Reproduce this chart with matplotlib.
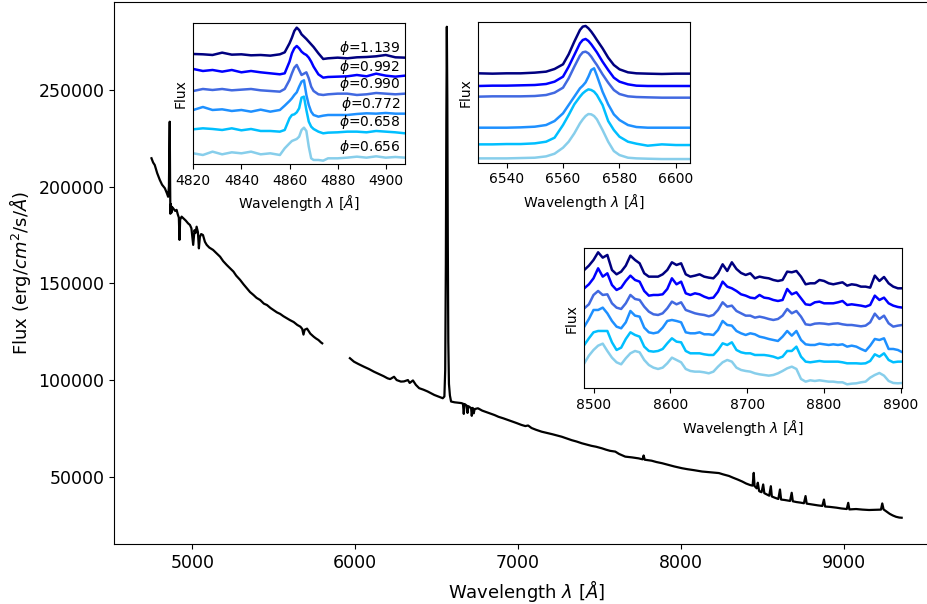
import numpy as np
import matplotlib
matplotlib.use("Agg")
import matplotlib.pyplot as plt

# ---- main spectrum (two pieces, gap between them) ----
wl_blue = [4750, 4760, 4770, 4785, 4801, 4815, 4832, 4845, 4852, 4857, 4860, 4862, 4864, 4866, 4869,
           4872, 4876, 4883, 4895, 4904, 4912, 4918, 4922, 4926, 4935, 4945, 4960, 4975, 4986, 4995,
           5006, 5014, 5020, 5027, 5035, 5041, 5047, 5055, 5066, 5078, 5089, 5105, 5128, 5150, 5171,
           5190, 5212, 5230, 5253, 5270, 5294, 5315, 5335, 5355, 5376, 5395, 5417, 5440, 5459, 5480,
           5499, 5520, 5540, 5560, 5582, 5600, 5623, 5645, 5664, 5675, 5683, 5690, 5705, 5725, 5746,
           5760, 5775, 5790, 5798]
flux_blue = [214700, 212500, 211200, 207000, 203500, 201000, 199200, 196500, 194800, 200000, 222000,
             233600, 205000, 186000, 191000, 186500, 189500, 188800, 187500, 188000, 185500, 184000,
             172500, 183000, 184500, 183700, 182500, 181000, 180200, 178500, 169900, 177500, 176000,
             179300, 176500, 168100, 174000, 175500, 175000, 171500, 169900, 168500, 167300, 165500,
             163800, 161500, 159500, 158000, 156100, 154000, 151800, 149500, 147500, 145500, 144000,
             142500, 141400, 139500, 138800, 137300, 136200, 135000, 134200, 133000, 131900, 131000,
             130000, 128500, 127600, 126500, 123500, 126000, 126600, 124000, 122400, 121500, 120700,
             119500, 119000]

wl_red = [5968, 5993, 6020, 6054, 6085, 6116, 6150, 6175, 6199, 6215, 6239, 6255, 6281, 6300, 6324,
          6335, 6355, 6373, 6393, 6420, 6445, 6465, 6486, 6510, 6538, 6548, 6553, 6557, 6560, 6563,
          6566, 6569, 6572, 6576, 6582, 6589, 6610, 6630, 6651, 6662, 6667, 6672, 6685, 6690, 6695,
          6712, 6716, 6722, 6728, 6734, 6754, 6780, 6810, 6830, 6856, 6880, 6910, 6939, 6960, 6990,
          7021, 7045, 7062, 7083, 7110, 7145, 7180, 7210, 7240, 7268, 7300, 7330, 7360, 7392, 7420,
          7450, 7480, 7515, 7540, 7565, 7597, 7620, 7658, 7700, 7740, 7765, 7771, 7778, 7820, 7850,
          7884, 7920, 7960, 8007, 8040, 8080, 8130, 8180, 8233, 8260, 8295, 8320, 8350, 8377, 8400,
          8425, 8440, 8447, 8452, 8465, 8472, 8480, 8486, 8495, 8505, 8512, 8528, 8542, 8552, 8558,
          8575, 8598, 8608, 8615, 8635, 8655, 8670, 8680, 8687, 8710, 8735, 8755, 8765, 8772, 8810,
          8840, 8868, 8878, 8885, 8915, 8955, 8985, 9018, 9027, 9034, 9075, 9115, 9155, 9195, 9228,
          9236, 9244, 9262, 9282, 9300, 9320, 9340, 9355]
flux_red = [111300, 109500, 108300, 106900, 105700, 104300, 103000, 102000, 100900, 100500, 101700,
            100000, 99200, 99300, 100000, 98500, 99800, 97500, 95800, 95000, 94100, 93200, 92300,
            91500, 90600, 91500, 105000, 160000, 235000, 282700, 245000, 170000, 120000, 98000, 92000,
            88900, 88500, 88300, 88100, 87800, 82500, 87600, 86800, 83000, 86500, 85500, 81500, 85600,
            82800, 85000, 85400, 84200, 83300, 82700, 81900, 81000, 80200, 79300, 78700, 77800, 76800,
            76200, 76500, 75200, 74300, 73300, 72600, 72000, 71300, 70700, 69800, 68900, 68200, 67300,
            66700, 66000, 65500, 64700, 64000, 63400, 63000, 61800, 60400, 60000, 59500, 59000, 61000,
            58800, 58300, 57600, 57000, 56200, 55300, 54400, 53900, 53400, 52700, 52300, 51900, 51200,
            50400, 49500, 48500, 47500, 46500, 45700, 45400, 52000, 45200, 44000, 46900, 42600, 42300,
            42000, 46000, 41500, 40800, 40200, 45100, 39800, 39200, 38500, 43400, 38200, 38000, 37700,
            37500, 41700, 37300, 36900, 36600, 36300, 40000, 36100, 35600, 35200, 34900, 38200, 34600,
            34400, 34000, 33600, 33300, 36500, 33100, 33300, 33000, 32800, 32900, 33000, 36200, 33100,
            32000, 30800, 30000, 29300, 28900, 28800]

# ---- inset spectra, phases top to bottom ----
phases = ['1.139', '0.992', '0.990', '0.772', '0.658', '0.656']
colors = ['navy', 'blue', 'royalblue', 'dodgerblue', 'deepskyblue', 'skyblue']

# H-beta
wl_hb = [4820, 4824, 4828, 4832, 4836, 4840, 4844, 4848, 4852, 4856, 4858, 4860, 4861, 4862, 4863,
         4864, 4865, 4866, 4867, 4868, 4869, 4870, 4872, 4874, 4876, 4880, 4884, 4888, 4892, 4896,
         4900, 4904, 4908, 4910]
hb_1139 = [3.43, 3.42, 3.40, 3.47, 3.41, 3.42, 3.39, 3.40, 3.38, 3.42, 3.48, 3.75, 3.92, 4.12, 4.22,
           4.15, 4.02, 3.95, 3.88, 3.80, 3.72, 3.64, 3.45, 3.28, 3.30, 3.32, 3.30, 3.33, 3.34, 3.36,
           3.40, 3.33, 3.32, 3.30]
hb_0992 = [2.98, 2.92, 2.95, 2.90, 2.95, 2.88, 2.92, 2.88, 2.85, 2.82, 2.85, 3.20, 3.45, 3.60, 3.67,
           3.60, 3.50, 3.44, 3.40, 3.32, 3.20, 3.05, 2.82, 2.72, 2.74, 2.75, 2.76, 2.80, 2.76, 2.84,
           2.78, 2.75, 2.78, 2.75]
hb_0990 = [2.32, 2.38, 2.35, 2.38, 2.34, 2.36, 2.38, 2.34, 2.32, 2.30, 2.38, 2.65, 2.85, 3.02, 3.10,
           2.95, 2.80, 2.84, 2.88, 2.70, 2.45, 2.32, 2.22, 2.20, 2.22, 2.24, 2.24, 2.20, 2.22, 2.26,
           2.24, 2.22, 2.24, 2.23]
hb_0772 = [1.75, 1.84, 1.75, 1.77, 1.72, 1.75, 1.70, 1.76, 1.70, 1.75, 1.88, 2.02, 2.10, 2.20, 2.28,
           2.45, 2.60, 2.64, 2.20, 1.90, 1.70, 1.60, 1.55, 1.58, 1.60, 1.60, 1.60, 1.63, 1.65, 1.64,
           1.66, 1.64, 1.64, 1.63]
hb_0658 = [1.17, 1.20, 1.18, 1.15, 1.20, 1.14, 1.18, 1.12, 1.12, 1.10, 1.15, 1.50, 1.60, 1.62, 1.68,
           1.80, 2.12, 2.15, 1.75, 1.40, 1.25, 1.18, 1.10, 1.05, 1.07, 1.08, 1.10, 1.10, 1.08, 1.12,
           1.10, 1.08, 1.05, 1.08]
hb_0656 = [0.45, 0.40, 0.50, 0.42, 0.48, 0.45, 0.50, 0.42, 0.45, 0.40, 0.60, 0.75, 0.82, 0.85, 0.88,
           0.95, 1.15, 1.22, 1.12, 0.65, 0.30, 0.25, 0.25, 0.23, 0.30, 0.30, 0.32, 0.35, 0.32, 0.36,
           0.32, 0.34, 0.32, 0.35]

# H-alpha
wl_ha = [6530, 6535, 6540, 6545, 6550, 6554, 6557, 6560, 6562, 6564, 6566, 6567, 6568, 6569, 6570,
         6571, 6572, 6574, 6576, 6578, 6580, 6583, 6586, 6590, 6595, 6600, 6605]
ha_1139 = [2.85, 2.84, 2.85, 2.85, 2.87, 2.90, 2.98, 3.12, 3.42, 3.80, 4.15, 4.25, 4.27, 4.20, 4.10,
           3.98, 3.85, 3.60, 3.32, 3.10, 2.97, 2.88, 2.85, 2.84, 2.83, 2.84, 2.84]
ha_0992 = [2.47, 2.48, 2.48, 2.49, 2.50, 2.53, 2.60, 2.75, 3.05, 3.40, 3.75, 3.85, 3.88, 3.82, 3.72,
           3.60, 3.48, 3.20, 2.95, 2.72, 2.60, 2.52, 2.48, 2.47, 2.47, 2.47, 2.47]
ha_0990 = [2.15, 2.16, 2.16, 2.16, 2.17, 2.20, 2.27, 2.42, 2.70, 3.05, 3.38, 3.48, 3.50, 3.45, 3.35,
           3.22, 3.10, 2.82, 2.57, 2.35, 2.23, 2.16, 2.14, 2.13, 2.12, 2.12, 2.12]
ha_0772 = [1.22, 1.22, 1.22, 1.23, 1.25, 1.30, 1.42, 1.65, 1.90, 2.15, 2.40, 2.48, 2.58, 2.75, 2.95,
           3.00, 2.78, 2.30, 1.92, 1.62, 1.45, 1.30, 1.24, 1.22, 1.22, 1.22, 1.22]
ha_0658 = [0.72, 0.72, 0.73, 0.73, 0.75, 0.80, 0.92, 1.30, 1.60, 1.92, 2.15, 2.25, 2.32, 2.37, 2.35,
           2.30, 2.20, 1.90, 1.42, 1.15, 0.95, 0.80, 0.74, 0.68, 0.72, 0.70, 0.70]
ha_0656 = [0.30, 0.30, 0.30, 0.31, 0.32, 0.36, 0.44, 0.62, 0.80, 1.05, 1.35, 1.47, 1.57, 1.63, 1.62,
           1.57, 1.47, 1.15, 0.80, 0.52, 0.40, 0.32, 0.30, 0.29, 0.28, 0.28, 0.28]

# Ca triplet region, sampled every 6 A from 8488
wl_ca = np.arange(8488, 8903, 6)
ca_1139 = [3.85, 3.98, 4.15, 4.38, 4.22, 4.30, 3.85, 3.72, 3.80, 3.98, 4.28, 4.15, 4.05, 3.75, 3.65,
           3.65, 3.65, 3.72, 3.85, 4.08, 4.00, 4.05, 3.72, 3.65, 3.68, 3.72, 3.65, 3.62, 3.60, 3.75,
           4.02, 3.82, 4.08, 3.88, 3.76, 3.70, 3.75, 3.60, 3.65, 3.62, 3.60, 3.55, 3.52, 3.55, 3.80,
           3.78, 3.82, 3.65, 3.42, 3.45, 3.45, 3.55, 3.52, 3.45, 3.42, 3.45, 3.48, 3.38, 3.42, 3.40,
           3.35, 3.35, 3.32, 3.68, 3.52, 3.64, 3.45, 3.35, 3.30, 3.30]
ca_0992 = [3.30, 3.42, 3.60, 3.90, 3.65, 3.75, 3.40, 3.25, 3.32, 3.52, 3.68, 3.55, 3.50, 3.22, 3.08,
           3.10, 3.10, 3.12, 3.28, 3.60, 3.42, 3.50, 3.15, 3.10, 3.15, 3.12, 3.05, 3.00, 3.02, 3.20,
           3.50, 3.35, 3.30, 3.22, 3.12, 3.08, 3.02, 3.00, 3.10, 3.02, 3.00, 2.95, 2.92, 2.95, 3.28,
           3.12, 3.18, 3.00, 2.82, 2.80, 2.88, 2.90, 2.85, 2.85, 2.85, 2.88, 2.92, 2.80, 2.82, 2.80,
           2.78, 2.75, 2.80, 3.08, 2.95, 3.02, 2.85, 2.78, 2.74, 2.72]
ca_0990 = [2.70, 2.82, 3.10, 3.22, 3.10, 3.12, 2.85, 2.72, 2.68, 2.85, 3.10, 2.98, 2.95, 2.75, 2.60,
           2.52, 2.50, 2.55, 2.70, 2.90, 2.82, 2.88, 2.65, 2.60, 2.55, 2.52, 2.50, 2.46, 2.50, 2.65,
           2.88, 2.75, 2.78, 2.62, 2.55, 2.48, 2.48, 2.42, 2.45, 2.42, 2.38, 2.35, 2.38, 2.48, 2.68,
           2.55, 2.62, 2.45, 2.22, 2.20, 2.24, 2.25, 2.24, 2.22, 2.24, 2.25, 2.22, 2.20, 2.20, 2.18,
           2.16, 2.18, 2.28, 2.54, 2.38, 2.48, 2.25, 2.15, 2.18, 2.20]
ca_0772 = [2.15, 2.38, 2.65, 2.65, 2.72, 2.55, 2.32, 2.15, 2.10, 2.28, 2.62, 2.48, 2.45, 2.12, 1.98,
           1.95, 1.98, 2.12, 2.32, 2.35, 2.32, 2.28, 1.98, 1.95, 1.95, 1.98, 1.92, 1.92, 1.90, 2.05,
           2.32, 2.20, 2.18, 2.02, 1.95, 1.90, 1.95, 1.92, 1.85, 1.82, 1.78, 1.75, 1.72, 1.85, 2.02,
           1.88, 2.02, 1.75, 1.62, 1.60, 1.60, 1.64, 1.62, 1.60, 1.62, 1.60, 1.62, 1.55, 1.58, 1.55,
           1.48, 1.42, 1.58, 1.78, 1.75, 1.80, 1.48, 1.48, 1.45, 1.38]
ca_0658 = [1.60, 1.80, 1.98, 2.02, 2.02, 2.02, 1.68, 1.45, 1.52, 1.78, 1.98, 1.90, 1.85, 1.55, 1.42,
           1.40, 1.42, 1.48, 1.65, 1.80, 1.70, 1.68, 1.42, 1.35, 1.35, 1.35, 1.32, 1.30, 1.30, 1.45,
           1.65, 1.60, 1.68, 1.45, 1.38, 1.35, 1.35, 1.30, 1.30, 1.30, 1.28, 1.25, 1.20, 1.25, 1.42,
           1.42, 1.55, 1.25, 1.10, 1.08, 1.10, 1.12, 1.10, 1.10, 1.10, 1.10, 1.08, 1.05, 1.05, 1.05,
           1.04, 1.05, 1.12, 1.32, 1.25, 1.35, 1.15, 1.08, 1.10, 1.10]
ca_0656 = [1.05, 1.28, 1.45, 1.58, 1.64, 1.42, 1.22, 1.08, 1.02, 1.20, 1.35, 1.42, 1.38, 1.15, 1.00,
           0.92, 0.88, 0.92, 1.05, 1.22, 1.15, 1.08, 0.88, 0.82, 0.80, 0.80, 0.78, 0.75, 0.80, 0.95,
           1.08, 1.15, 1.10, 0.92, 0.85, 0.82, 0.80, 0.75, 0.72, 0.70, 0.68, 0.70, 0.75, 0.82, 0.90,
           0.95, 0.88, 0.58, 0.50, 0.54, 0.52, 0.54, 0.52, 0.50, 0.50, 0.48, 0.48, 0.42, 0.44, 0.45,
           0.48, 0.50, 0.62, 0.70, 0.76, 0.68, 0.52, 0.46, 0.45, 0.46]

hb_curves = [hb_1139, hb_0992, hb_0990, hb_0772, hb_0658, hb_0656]
ha_curves = [ha_1139, ha_0992, ha_0990, ha_0772, ha_0658, ha_0656]
ca_curves = [ca_1139, ca_0992, ca_0990, ca_0772, ca_0658, ca_0656]

xlabel = r'Wavelength $\lambda$ [$\AA$]'

fig = plt.figure(figsize=(9.27, 6.04), dpi=100)
ax = fig.add_axes([0.1230, 0.0988, 0.8892, 0.8974])
ax.plot(wl_blue, flux_blue, color='k', lw=1.6)
ax.plot(wl_red, flux_red, color='k', lw=1.6)
ax.set_xlim(4520, 9580)
ax.set_ylim(15050, 295350)
ax.set_xticks([5000, 6000, 7000, 8000, 9000])
ax.set_yticks([50000, 100000, 150000, 200000, 250000])
ax.tick_params(labelsize=12.5)
ax.set_xlabel(xlabel, fontsize=13)
ax.set_ylabel(r'Flux (erg/$cm^2$/s/$\AA$)', fontsize=13)


def inset(rect, wl, curves, xlim, ylim, xticks):
    a = fig.add_axes(rect)
    for ys, c in zip(curves, colors):
        a.plot(wl, ys, color=c, lw=1.8)
    a.set_xlim(*xlim)
    a.set_ylim(*ylim)
    a.set_xticks(xticks)
    a.set_yticks([])
    a.tick_params(labelsize=10)
    a.set_xlabel(xlabel, fontsize=10)
    a.set_ylabel('Flux', fontsize=10)
    return a


a1 = inset([0.2085, 0.7285, 0.2284, 0.2329], wl_hb, hb_curves, (4820, 4908), (0.13, 4.35),
           [4820, 4840, 4860, 4880, 4900])
for ys, ph in zip(hb_curves, phases):
    a1.text(4906, ys[-1] + 0.3, r'$\phi$=' + ph, ha='right', va='center', fontsize=10)

inset([0.5160, 0.7306, 0.2284, 0.2325], wl_ha, ha_curves, (6530, 6605), (0.17, 4.38),
      [6540, 6560, 6580, 6600])
inset([0.6303, 0.3571, 0.3424, 0.2318], wl_ca, ca_curves, (8488, 8901), (0.30, 4.50),
      [8500, 8600, 8700, 8800, 8900])

fig.savefig('out.png', dpi=100)
